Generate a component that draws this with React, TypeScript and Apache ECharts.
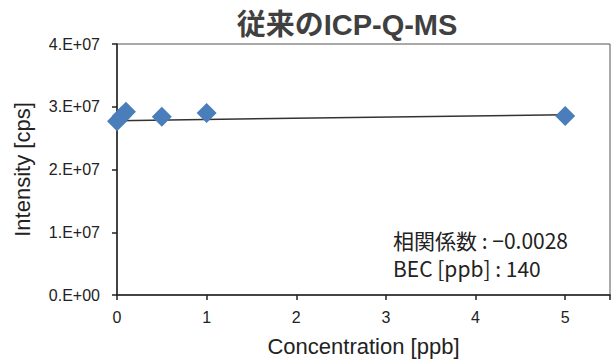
import React, { useEffect, useRef } from "react";
import * as echarts from "echarts";

const concentrations = [0, 0.05, 0.1, 0.5, 1, 5];
const intensities = [2.77e7, 2.85e7, 2.92e7, 2.84e7, 2.9e7, 2.853e7];
const trendX = [0, 5];
const trendY = [2.778e7, 2.873e7];
const yTicks = ["0.E+00", "1.E+07", "2.E+07", "3.E+07", "4.E+07"];
const titleText = "従来のICP-Q-MS";
const annot1 = "相関係数 : −0.0028";
const annot2 = "BEC [ppb] : 140";

export default function App() {
  const ref = useRef<HTMLDivElement>(null);
  useEffect(() => {
    const chart = echarts.init(ref.current!, null, { renderer: "svg" });
    const font = "'Liberation Sans', Arial, 'Noto Sans CJK JP', sans-serif";
    const jpFont = "'Noto Sans CJK JP', sans-serif";
    chart.setOption({
      animation: false,
      backgroundColor: "#fff",
      textStyle: { fontFamily: font },
      title: {
        text: titleText,
        left: 347,
        textAlign: "center",
        top: 10,
        padding: 0,
        textStyle: { fontSize: 29, fontWeight: "bold", color: "#404040", fontFamily: font },
      },
      grid: {
        left: 117,
        top: 44,
        right: 1,
        bottom: 64,
        show: true,
        borderColor: "#555",
        borderWidth: 1,
        containLabel: false,
        outerBoundsMode: "none",
      },
      xAxis: {
        type: "value",
        min: 0,
        max: 5.5,
        interval: 1,
        name: "Concentration [ppb]",
        nameLocation: "middle",
        nameGap: 40,
        nameMoveOverlap: false,
        nameTextStyle: { fontSize: 22, color: "#222" },
        axisLine: { show: true, lineStyle: { color: "#222", width: 1.5 } },
        axisTick: { show: true, length: 5, lineStyle: { color: "#222", width: 1.5 } },
        axisLabel: {
          fontSize: 16,
          color: "#222",
          margin: 14,
          formatter: (v: number) => (v > 5 ? "" : String(v)),
        },
        splitLine: { show: false },
      },
      yAxis: {
        type: "value",
        min: 0,
        max: 4e7,
        interval: 1e7,
        name: "Intensity [cps]",
        nameLocation: "middle",
        nameGap: 84,
        nameRotate: 90,
        nameMoveOverlap: false,
        nameTextStyle: { fontSize: 22, color: "#222" },
        axisLine: { show: true, lineStyle: { color: "#222", width: 1.5 } },
        axisTick: { show: true, length: 5, lineStyle: { color: "#222", width: 1.5 } },
        axisLabel: {
          fontSize: 16,
          color: "#222",
          margin: 17,
          formatter: (v: number) => yTicks[Math.round(v / 1e7)] ?? "",
        },
        splitLine: { show: false },
      },
      graphic: [
        {
          type: "text",
          left: 393,
          top: 229,
          style: { text: annot1, fontSize: 21, fill: "#222", fontFamily: jpFont },
        },
        {
          type: "text",
          left: 393,
          top: 257,
          style: { text: annot2, fontSize: 21, fill: "#222", fontFamily: jpFont },
        },
      ],
      series: [
        {
          type: "line",
          data: trendX.map((x, i) => [x, trendY[i]]),
          symbol: "none",
          lineStyle: { color: "#333", width: 1.5 },
          z: 2,
        },
        {
          type: "scatter",
          data: concentrations.map((x, i) => [x, intensities[i]]),
          symbol: "diamond",
          symbolSize: 20,
          itemStyle: { color: "#4a7ebb", opacity: 1 },
          z: 3,
        },
      ],
    });
    return () => chart.dispose();
  }, []);
  return (
    <div
      ref={ref}
      style={{ position: "fixed", left: 0, top: 0, width: 611, height: 359 }}
    />
  );
}
